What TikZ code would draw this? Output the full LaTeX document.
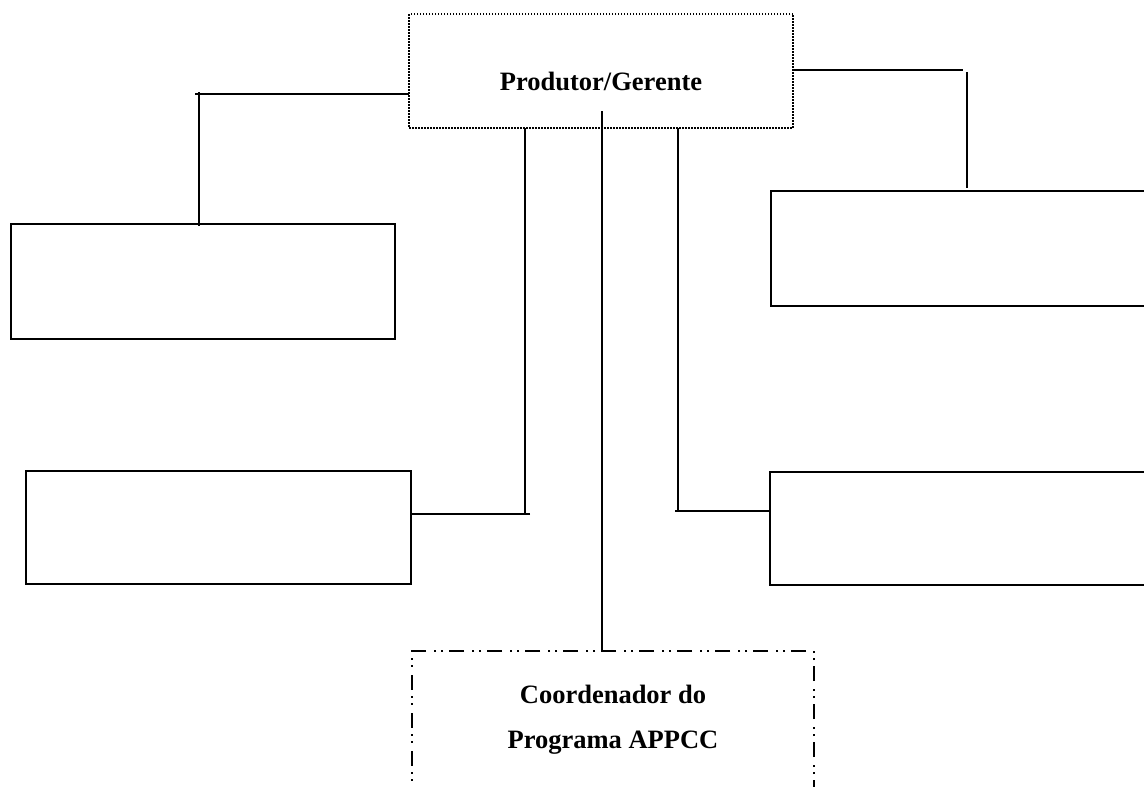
\documentclass[tikz,border=0pt]{standalone}
\usepackage{fontspec}
\setmainfont{Liberation Serif}
\begin{document}
\begin{tikzpicture}[x=1pt,y=-1pt,
  box/.style={draw=black, line width=2.2pt, inner sep=0pt, outer sep=0pt, anchor=north west},
  headbox/.style={draw=black, line width=1.5pt, dash pattern=on 1.5pt off 1.5pt,
    inner sep=0pt, outer sep=0pt, minimum width=384pt, minimum height=114pt},
  coordbox/.style={draw=black, line width=1.8pt,
    dash pattern=on 15pt off 6pt on 2pt off 5pt on 2pt off 8pt,
    inner sep=0pt, outer sep=0pt, anchor=north, minimum width=402pt, minimum height=160pt},
  conn/.style={draw=black, line width=2.2pt},
  lbl/.style={font=\fontsize{26.5}{45}\selectfont\bfseries, inner sep=0pt, anchor=base}]
\useasboundingbox (0,0) rectangle (1144,787);
\clip (0,0) rectangle (1144,787);

% head of the organisation
\node[headbox] (top) at (601,71) {};
\node[lbl] (toptxt) at (601,90) {Produtor/Gerente};

% empty boxes on both sides
\node[box, minimum width=384pt, minimum height=115pt] (l1) at (11,224) {};
\node[box, minimum width=385pt, minimum height=113pt] (l2) at (26,471) {};
\node[box, minimum width=420pt, minimum height=115pt] (r1) at (771,191) {};
\node[box, minimum width=420pt, minimum height=113pt] (r2) at (770,472) {};

% programme coordinator
\node[coordbox] (bot) at (613,651) {};
\node[lbl] (bottxt1) at (613,703) {Coordenador do};
\node[lbl] (bottxt2) at (613,748) {Programa APPCC};

% bend points of the connectors
\coordinate (c1) at (199,94);
\coordinate (c2) at (525,514);
\coordinate (c3) at (602,111);
\coordinate (c4) at (678,511);
\coordinate (c5) at (967,70);

% upper left branch
\draw[conn] (top.west |- c1) -- ([xshift=-4pt]c1);
\draw[conn] ([yshift=2pt]c1) -- ([yshift=-2pt]c1 |- l1.north);

% lower left branch
\draw[conn] (c2 |- top.south) -- (c2);
\draw[conn] ([xshift=5pt]c2) -- (c2 -| l2.east);

% central line to the coordinator
\draw[conn] (c3) -- (c3 |- bot.north);

% lower right branch
\draw[conn] (c4 |- top.south) -- (c4);
\draw[conn] ([xshift=-3pt]c4) -- (c4 -| r2.west);

% upper right branch
\draw[conn] (top.east |- c5) -- ([xshift=-4pt]c5);
\draw[conn] ([yshift=-2pt]c5) -- ([yshift=3pt]c5 |- r1.north);
\end{tikzpicture}
\end{document}
